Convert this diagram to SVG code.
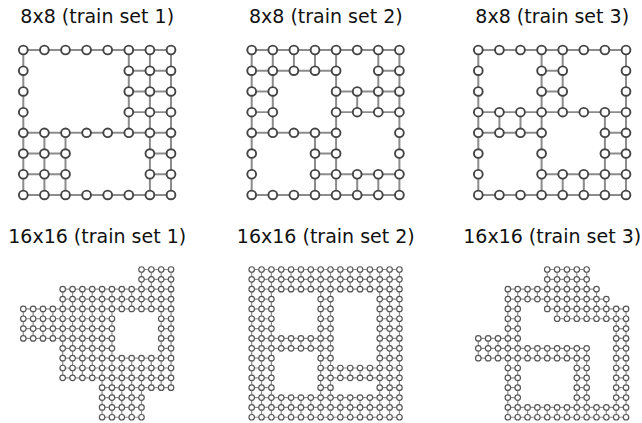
<svg xmlns="http://www.w3.org/2000/svg" xmlns:xlink="http://www.w3.org/1999/xlink" width="642" height="423" viewBox="0 0 642 423">
<style>
.t{font-family:"DejaVu Sans","Liberation Sans",sans-serif;font-size:19px;fill:#111;text-anchor:middle}
.e8{fill:none;stroke:#8c8c8c;stroke-width:.095;stroke-linecap:butt}
.e16{fill:none;stroke:#8c8c8c;stroke-width:.12}
.n8{fill:#fff;stroke:#444;stroke-width:.09}
.n16{fill:#fff;stroke:#555;stroke-width:.12}
</style>
<defs>
<circle id="n" class="n8" r="0.2085"/>
<circle id="m" class="n16" r="0.28"/>
</defs>
<rect width="642" height="423" fill="#fff"/>
<g id="titles">
<text class="t" x="97.2" y="23">8x8 (train set 1)</text>
<text class="t" x="325.8" y="23">8x8 (train set 2)</text>
<text class="t" x="552.2" y="23">8x8 (train set 3)</text>
<text class="t" x="97.2" y="243">16x16 (train set 1)</text>
<text class="t" x="325.8" y="243">16x16 (train set 2)</text>
<text class="t" x="552.2" y="243">16x16 (train set 3)</text>
</g>
<g id="connectors">
<path class="e8" transform="translate(23.3,50) scale(21.1,20.71)" d="M0 0H7M5 1H7M5 2H7M5 3H7M0 4H7M0 5H2M6 5H7M0 6H2M6 6H7M0 7H7M0 0V7M1 4V7M2 4V7M5 0V4M6 0V7M7 0V7"/>
<path class="e8" transform="translate(251.7,50) scale(21.1,20.71)" d="M0 0H7M0 1H4M6 1H7M0 2H1M4 2H7M0 3H1M4 3H7M0 4H4M3 5H4M3 6H7M0 7H7M0 0V7M1 0V4M2 0V1M3 0V1M3 4V7M4 0V7M5 2V3M5 6V7M6 0V3M6 6V7M7 0V7"/>
<path class="e8" transform="translate(478.3,50) scale(21.1,20.71)" d="M0 0H7M3 1H4M3 2H4M0 3H7M0 4H3M6 4H7M6 5H7M3 6H7M0 7H7M0 0V7M1 3V4M2 3V4M3 0V7M4 0V3M4 6V7M5 6V7M6 3V7M7 0V7"/>
<path class="e16" transform="translate(23.3,269.5) scale(9.85)" d="M12 0H15M12 1H15M4 2H15M4 3H15M0 4H15M0 5H9M14 5H15M0 6H9M14 6H15M0 7H9M14 7H15M4 8H9M14 8H15M4 9H15M4 10H15M4 11H15M8 12H15M8 13H12M8 14H12M8 15H12M0 4V7M1 4V7M2 4V7M3 4V7M4 2V11M5 2V11M6 2V11M7 2V11M8 2V15M9 2V15M10 2V4M10 9V15M11 2V4M11 9V15M12 0V4M12 9V15M13 0V4M13 9V12M14 0V12M15 0V12"/>
<path class="e16" transform="translate(251.7,269.5) scale(9.85)" d="M0 0H15M0 1H15M0 2H15M0 3H2M7 3H8M13 3H15M0 4H2M7 4H8M13 4H15M0 5H2M7 5H8M13 5H15M0 6H2M7 6H8M13 6H15M0 7H8M13 7H15M0 8H8M13 8H15M0 9H2M7 9H8M13 9H15M0 10H2M7 10H15M0 11H2M7 11H15M0 12H2M7 12H8M13 12H15M0 13H15M0 14H15M0 15H15M0 0V15M1 0V15M2 0V15M3 0V2M3 7V8M3 13V15M4 0V2M4 7V8M4 13V15M5 0V2M5 7V8M5 13V15M6 0V2M6 7V8M6 13V15M7 0V15M8 0V15M9 0V2M9 10V11M9 13V15M10 0V2M10 10V11M10 13V15M11 0V2M11 10V11M11 13V15M12 0V2M12 10V11M12 13V15M13 0V15M14 0V15M15 0V15"/>
<path class="e16" transform="translate(478.3,269.5) scale(9.85)" d="M7 0H11M7 1H11M3 2H12M3 3H13M3 4H4M7 4H15M3 5H4M8 5H15M3 6H4M14 6H15M0 7H4M14 7H15M0 8H11M14 8H15M0 9H11M14 9H15M3 10H4M10 10H11M14 10H15M3 11H4M10 11H11M14 11H15M3 12H4M10 12H11M14 12H15M3 13H4M10 13H11M14 13H15M3 14H15M3 15H15M0 7V9M1 7V9M2 7V9M3 2V15M4 2V15M5 2V3M5 8V9M5 14V15M6 2V3M6 8V9M6 14V15M7 0V4M7 8V9M7 14V15M8 0V5M8 8V9M8 14V15M9 0V5M9 8V9M9 14V15M10 0V5M10 8V15M11 0V5M11 8V15M12 2V5M12 14V15M13 3V5M13 14V15M14 4V15M15 4V15"/>
</g>
<g id="graph-8x8-set1" transform="translate(23.3,50) scale(21.1,20.71)">
<use id="a0-0" href="#n" x="0" y="0"/><use id="a0-1" href="#n" x="1" y="0"/><use id="a0-2" href="#n" x="2" y="0"/><use id="a0-3" href="#n" x="3" y="0"/><use id="a0-4" href="#n" x="4" y="0"/><use id="a0-5" href="#n" x="5" y="0"/><use id="a0-6" href="#n" x="6" y="0"/><use id="a0-7" href="#n" x="7" y="0"/>
<use id="a1-0" href="#n" x="0" y="1"/><use id="a1-5" href="#n" x="5" y="1"/><use id="a1-6" href="#n" x="6" y="1"/><use id="a1-7" href="#n" x="7" y="1"/>
<use id="a2-0" href="#n" x="0" y="2"/><use id="a2-5" href="#n" x="5" y="2"/><use id="a2-6" href="#n" x="6" y="2"/><use id="a2-7" href="#n" x="7" y="2"/>
<use id="a3-0" href="#n" x="0" y="3"/><use id="a3-5" href="#n" x="5" y="3"/><use id="a3-6" href="#n" x="6" y="3"/><use id="a3-7" href="#n" x="7" y="3"/>
<use id="a4-0" href="#n" x="0" y="4"/><use id="a4-1" href="#n" x="1" y="4"/><use id="a4-2" href="#n" x="2" y="4"/><use id="a4-3" href="#n" x="3" y="4"/><use id="a4-4" href="#n" x="4" y="4"/><use id="a4-5" href="#n" x="5" y="4"/><use id="a4-6" href="#n" x="6" y="4"/><use id="a4-7" href="#n" x="7" y="4"/>
<use id="a5-0" href="#n" x="0" y="5"/><use id="a5-1" href="#n" x="1" y="5"/><use id="a5-2" href="#n" x="2" y="5"/><use id="a5-6" href="#n" x="6" y="5"/><use id="a5-7" href="#n" x="7" y="5"/>
<use id="a6-0" href="#n" x="0" y="6"/><use id="a6-1" href="#n" x="1" y="6"/><use id="a6-2" href="#n" x="2" y="6"/><use id="a6-6" href="#n" x="6" y="6"/><use id="a6-7" href="#n" x="7" y="6"/>
<use id="a7-0" href="#n" x="0" y="7"/><use id="a7-1" href="#n" x="1" y="7"/><use id="a7-2" href="#n" x="2" y="7"/><use id="a7-3" href="#n" x="3" y="7"/><use id="a7-4" href="#n" x="4" y="7"/><use id="a7-5" href="#n" x="5" y="7"/><use id="a7-6" href="#n" x="6" y="7"/><use id="a7-7" href="#n" x="7" y="7"/>
</g>
<g id="graph-8x8-set2" transform="translate(251.7,50) scale(21.1,20.71)">
<use id="b0-0" href="#n" x="0" y="0"/><use id="b0-1" href="#n" x="1" y="0"/><use id="b0-2" href="#n" x="2" y="0"/><use id="b0-3" href="#n" x="3" y="0"/><use id="b0-4" href="#n" x="4" y="0"/><use id="b0-5" href="#n" x="5" y="0"/><use id="b0-6" href="#n" x="6" y="0"/><use id="b0-7" href="#n" x="7" y="0"/>
<use id="b1-0" href="#n" x="0" y="1"/><use id="b1-1" href="#n" x="1" y="1"/><use id="b1-2" href="#n" x="2" y="1"/><use id="b1-3" href="#n" x="3" y="1"/><use id="b1-4" href="#n" x="4" y="1"/><use id="b1-6" href="#n" x="6" y="1"/><use id="b1-7" href="#n" x="7" y="1"/>
<use id="b2-0" href="#n" x="0" y="2"/><use id="b2-1" href="#n" x="1" y="2"/><use id="b2-4" href="#n" x="4" y="2"/><use id="b2-5" href="#n" x="5" y="2"/><use id="b2-6" href="#n" x="6" y="2"/><use id="b2-7" href="#n" x="7" y="2"/>
<use id="b3-0" href="#n" x="0" y="3"/><use id="b3-1" href="#n" x="1" y="3"/><use id="b3-4" href="#n" x="4" y="3"/><use id="b3-5" href="#n" x="5" y="3"/><use id="b3-6" href="#n" x="6" y="3"/><use id="b3-7" href="#n" x="7" y="3"/>
<use id="b4-0" href="#n" x="0" y="4"/><use id="b4-1" href="#n" x="1" y="4"/><use id="b4-2" href="#n" x="2" y="4"/><use id="b4-3" href="#n" x="3" y="4"/><use id="b4-4" href="#n" x="4" y="4"/><use id="b4-7" href="#n" x="7" y="4"/>
<use id="b5-0" href="#n" x="0" y="5"/><use id="b5-3" href="#n" x="3" y="5"/><use id="b5-4" href="#n" x="4" y="5"/><use id="b5-7" href="#n" x="7" y="5"/>
<use id="b6-0" href="#n" x="0" y="6"/><use id="b6-3" href="#n" x="3" y="6"/><use id="b6-4" href="#n" x="4" y="6"/><use id="b6-5" href="#n" x="5" y="6"/><use id="b6-6" href="#n" x="6" y="6"/><use id="b6-7" href="#n" x="7" y="6"/>
<use id="b7-0" href="#n" x="0" y="7"/><use id="b7-1" href="#n" x="1" y="7"/><use id="b7-2" href="#n" x="2" y="7"/><use id="b7-3" href="#n" x="3" y="7"/><use id="b7-4" href="#n" x="4" y="7"/><use id="b7-5" href="#n" x="5" y="7"/><use id="b7-6" href="#n" x="6" y="7"/><use id="b7-7" href="#n" x="7" y="7"/>
</g>
<g id="graph-8x8-set3" transform="translate(478.3,50) scale(21.1,20.71)">
<use id="c0-0" href="#n" x="0" y="0"/><use id="c0-1" href="#n" x="1" y="0"/><use id="c0-2" href="#n" x="2" y="0"/><use id="c0-3" href="#n" x="3" y="0"/><use id="c0-4" href="#n" x="4" y="0"/><use id="c0-5" href="#n" x="5" y="0"/><use id="c0-6" href="#n" x="6" y="0"/><use id="c0-7" href="#n" x="7" y="0"/>
<use id="c1-0" href="#n" x="0" y="1"/><use id="c1-3" href="#n" x="3" y="1"/><use id="c1-4" href="#n" x="4" y="1"/><use id="c1-7" href="#n" x="7" y="1"/>
<use id="c2-0" href="#n" x="0" y="2"/><use id="c2-3" href="#n" x="3" y="2"/><use id="c2-4" href="#n" x="4" y="2"/><use id="c2-7" href="#n" x="7" y="2"/>
<use id="c3-0" href="#n" x="0" y="3"/><use id="c3-1" href="#n" x="1" y="3"/><use id="c3-2" href="#n" x="2" y="3"/><use id="c3-3" href="#n" x="3" y="3"/><use id="c3-4" href="#n" x="4" y="3"/><use id="c3-5" href="#n" x="5" y="3"/><use id="c3-6" href="#n" x="6" y="3"/><use id="c3-7" href="#n" x="7" y="3"/>
<use id="c4-0" href="#n" x="0" y="4"/><use id="c4-1" href="#n" x="1" y="4"/><use id="c4-2" href="#n" x="2" y="4"/><use id="c4-3" href="#n" x="3" y="4"/><use id="c4-6" href="#n" x="6" y="4"/><use id="c4-7" href="#n" x="7" y="4"/>
<use id="c5-0" href="#n" x="0" y="5"/><use id="c5-3" href="#n" x="3" y="5"/><use id="c5-6" href="#n" x="6" y="5"/><use id="c5-7" href="#n" x="7" y="5"/>
<use id="c6-0" href="#n" x="0" y="6"/><use id="c6-3" href="#n" x="3" y="6"/><use id="c6-4" href="#n" x="4" y="6"/><use id="c6-5" href="#n" x="5" y="6"/><use id="c6-6" href="#n" x="6" y="6"/><use id="c6-7" href="#n" x="7" y="6"/>
<use id="c7-0" href="#n" x="0" y="7"/><use id="c7-1" href="#n" x="1" y="7"/><use id="c7-2" href="#n" x="2" y="7"/><use id="c7-3" href="#n" x="3" y="7"/><use id="c7-4" href="#n" x="4" y="7"/><use id="c7-5" href="#n" x="5" y="7"/><use id="c7-6" href="#n" x="6" y="7"/><use id="c7-7" href="#n" x="7" y="7"/>
</g>
<g id="graph-16x16-set1" transform="translate(23.3,269.5) scale(9.85)">
<use id="d0-12" href="#m" x="12" y="0"/><use id="d0-13" href="#m" x="13" y="0"/><use id="d0-14" href="#m" x="14" y="0"/><use id="d0-15" href="#m" x="15" y="0"/>
<use id="d1-12" href="#m" x="12" y="1"/><use id="d1-13" href="#m" x="13" y="1"/><use id="d1-14" href="#m" x="14" y="1"/><use id="d1-15" href="#m" x="15" y="1"/>
<use id="d2-4" href="#m" x="4" y="2"/><use id="d2-5" href="#m" x="5" y="2"/><use id="d2-6" href="#m" x="6" y="2"/><use id="d2-7" href="#m" x="7" y="2"/><use id="d2-8" href="#m" x="8" y="2"/><use id="d2-9" href="#m" x="9" y="2"/><use id="d2-10" href="#m" x="10" y="2"/><use id="d2-11" href="#m" x="11" y="2"/><use id="d2-12" href="#m" x="12" y="2"/><use id="d2-13" href="#m" x="13" y="2"/><use id="d2-14" href="#m" x="14" y="2"/><use id="d2-15" href="#m" x="15" y="2"/>
<use id="d3-4" href="#m" x="4" y="3"/><use id="d3-5" href="#m" x="5" y="3"/><use id="d3-6" href="#m" x="6" y="3"/><use id="d3-7" href="#m" x="7" y="3"/><use id="d3-8" href="#m" x="8" y="3"/><use id="d3-9" href="#m" x="9" y="3"/><use id="d3-10" href="#m" x="10" y="3"/><use id="d3-11" href="#m" x="11" y="3"/><use id="d3-12" href="#m" x="12" y="3"/><use id="d3-13" href="#m" x="13" y="3"/><use id="d3-14" href="#m" x="14" y="3"/><use id="d3-15" href="#m" x="15" y="3"/>
<use id="d4-0" href="#m" x="0" y="4"/><use id="d4-1" href="#m" x="1" y="4"/><use id="d4-2" href="#m" x="2" y="4"/><use id="d4-3" href="#m" x="3" y="4"/><use id="d4-4" href="#m" x="4" y="4"/><use id="d4-5" href="#m" x="5" y="4"/><use id="d4-6" href="#m" x="6" y="4"/><use id="d4-7" href="#m" x="7" y="4"/><use id="d4-8" href="#m" x="8" y="4"/><use id="d4-9" href="#m" x="9" y="4"/><use id="d4-10" href="#m" x="10" y="4"/><use id="d4-11" href="#m" x="11" y="4"/><use id="d4-12" href="#m" x="12" y="4"/><use id="d4-13" href="#m" x="13" y="4"/><use id="d4-14" href="#m" x="14" y="4"/><use id="d4-15" href="#m" x="15" y="4"/>
<use id="d5-0" href="#m" x="0" y="5"/><use id="d5-1" href="#m" x="1" y="5"/><use id="d5-2" href="#m" x="2" y="5"/><use id="d5-3" href="#m" x="3" y="5"/><use id="d5-4" href="#m" x="4" y="5"/><use id="d5-5" href="#m" x="5" y="5"/><use id="d5-6" href="#m" x="6" y="5"/><use id="d5-7" href="#m" x="7" y="5"/><use id="d5-8" href="#m" x="8" y="5"/><use id="d5-9" href="#m" x="9" y="5"/><use id="d5-14" href="#m" x="14" y="5"/><use id="d5-15" href="#m" x="15" y="5"/>
<use id="d6-0" href="#m" x="0" y="6"/><use id="d6-1" href="#m" x="1" y="6"/><use id="d6-2" href="#m" x="2" y="6"/><use id="d6-3" href="#m" x="3" y="6"/><use id="d6-4" href="#m" x="4" y="6"/><use id="d6-5" href="#m" x="5" y="6"/><use id="d6-6" href="#m" x="6" y="6"/><use id="d6-7" href="#m" x="7" y="6"/><use id="d6-8" href="#m" x="8" y="6"/><use id="d6-9" href="#m" x="9" y="6"/><use id="d6-14" href="#m" x="14" y="6"/><use id="d6-15" href="#m" x="15" y="6"/>
<use id="d7-0" href="#m" x="0" y="7"/><use id="d7-1" href="#m" x="1" y="7"/><use id="d7-2" href="#m" x="2" y="7"/><use id="d7-3" href="#m" x="3" y="7"/><use id="d7-4" href="#m" x="4" y="7"/><use id="d7-5" href="#m" x="5" y="7"/><use id="d7-6" href="#m" x="6" y="7"/><use id="d7-7" href="#m" x="7" y="7"/><use id="d7-8" href="#m" x="8" y="7"/><use id="d7-9" href="#m" x="9" y="7"/><use id="d7-14" href="#m" x="14" y="7"/><use id="d7-15" href="#m" x="15" y="7"/>
<use id="d8-4" href="#m" x="4" y="8"/><use id="d8-5" href="#m" x="5" y="8"/><use id="d8-6" href="#m" x="6" y="8"/><use id="d8-7" href="#m" x="7" y="8"/><use id="d8-8" href="#m" x="8" y="8"/><use id="d8-9" href="#m" x="9" y="8"/><use id="d8-14" href="#m" x="14" y="8"/><use id="d8-15" href="#m" x="15" y="8"/>
<use id="d9-4" href="#m" x="4" y="9"/><use id="d9-5" href="#m" x="5" y="9"/><use id="d9-6" href="#m" x="6" y="9"/><use id="d9-7" href="#m" x="7" y="9"/><use id="d9-8" href="#m" x="8" y="9"/><use id="d9-9" href="#m" x="9" y="9"/><use id="d9-10" href="#m" x="10" y="9"/><use id="d9-11" href="#m" x="11" y="9"/><use id="d9-12" href="#m" x="12" y="9"/><use id="d9-13" href="#m" x="13" y="9"/><use id="d9-14" href="#m" x="14" y="9"/><use id="d9-15" href="#m" x="15" y="9"/>
<use id="d10-4" href="#m" x="4" y="10"/><use id="d10-5" href="#m" x="5" y="10"/><use id="d10-6" href="#m" x="6" y="10"/><use id="d10-7" href="#m" x="7" y="10"/><use id="d10-8" href="#m" x="8" y="10"/><use id="d10-9" href="#m" x="9" y="10"/><use id="d10-10" href="#m" x="10" y="10"/><use id="d10-11" href="#m" x="11" y="10"/><use id="d10-12" href="#m" x="12" y="10"/><use id="d10-13" href="#m" x="13" y="10"/><use id="d10-14" href="#m" x="14" y="10"/><use id="d10-15" href="#m" x="15" y="10"/>
<use id="d11-4" href="#m" x="4" y="11"/><use id="d11-5" href="#m" x="5" y="11"/><use id="d11-6" href="#m" x="6" y="11"/><use id="d11-7" href="#m" x="7" y="11"/><use id="d11-8" href="#m" x="8" y="11"/><use id="d11-9" href="#m" x="9" y="11"/><use id="d11-10" href="#m" x="10" y="11"/><use id="d11-11" href="#m" x="11" y="11"/><use id="d11-12" href="#m" x="12" y="11"/><use id="d11-13" href="#m" x="13" y="11"/><use id="d11-14" href="#m" x="14" y="11"/><use id="d11-15" href="#m" x="15" y="11"/>
<use id="d12-8" href="#m" x="8" y="12"/><use id="d12-9" href="#m" x="9" y="12"/><use id="d12-10" href="#m" x="10" y="12"/><use id="d12-11" href="#m" x="11" y="12"/><use id="d12-12" href="#m" x="12" y="12"/><use id="d12-13" href="#m" x="13" y="12"/><use id="d12-14" href="#m" x="14" y="12"/><use id="d12-15" href="#m" x="15" y="12"/>
<use id="d13-8" href="#m" x="8" y="13"/><use id="d13-9" href="#m" x="9" y="13"/><use id="d13-10" href="#m" x="10" y="13"/><use id="d13-11" href="#m" x="11" y="13"/><use id="d13-12" href="#m" x="12" y="13"/>
<use id="d14-8" href="#m" x="8" y="14"/><use id="d14-9" href="#m" x="9" y="14"/><use id="d14-10" href="#m" x="10" y="14"/><use id="d14-11" href="#m" x="11" y="14"/><use id="d14-12" href="#m" x="12" y="14"/>
<use id="d15-8" href="#m" x="8" y="15"/><use id="d15-9" href="#m" x="9" y="15"/><use id="d15-10" href="#m" x="10" y="15"/><use id="d15-11" href="#m" x="11" y="15"/><use id="d15-12" href="#m" x="12" y="15"/>
</g>
<g id="graph-16x16-set2" transform="translate(251.7,269.5) scale(9.85)">
<use id="e0-0" href="#m" x="0" y="0"/><use id="e0-1" href="#m" x="1" y="0"/><use id="e0-2" href="#m" x="2" y="0"/><use id="e0-3" href="#m" x="3" y="0"/><use id="e0-4" href="#m" x="4" y="0"/><use id="e0-5" href="#m" x="5" y="0"/><use id="e0-6" href="#m" x="6" y="0"/><use id="e0-7" href="#m" x="7" y="0"/><use id="e0-8" href="#m" x="8" y="0"/><use id="e0-9" href="#m" x="9" y="0"/><use id="e0-10" href="#m" x="10" y="0"/><use id="e0-11" href="#m" x="11" y="0"/><use id="e0-12" href="#m" x="12" y="0"/><use id="e0-13" href="#m" x="13" y="0"/><use id="e0-14" href="#m" x="14" y="0"/><use id="e0-15" href="#m" x="15" y="0"/>
<use id="e1-0" href="#m" x="0" y="1"/><use id="e1-1" href="#m" x="1" y="1"/><use id="e1-2" href="#m" x="2" y="1"/><use id="e1-3" href="#m" x="3" y="1"/><use id="e1-4" href="#m" x="4" y="1"/><use id="e1-5" href="#m" x="5" y="1"/><use id="e1-6" href="#m" x="6" y="1"/><use id="e1-7" href="#m" x="7" y="1"/><use id="e1-8" href="#m" x="8" y="1"/><use id="e1-9" href="#m" x="9" y="1"/><use id="e1-10" href="#m" x="10" y="1"/><use id="e1-11" href="#m" x="11" y="1"/><use id="e1-12" href="#m" x="12" y="1"/><use id="e1-13" href="#m" x="13" y="1"/><use id="e1-14" href="#m" x="14" y="1"/><use id="e1-15" href="#m" x="15" y="1"/>
<use id="e2-0" href="#m" x="0" y="2"/><use id="e2-1" href="#m" x="1" y="2"/><use id="e2-2" href="#m" x="2" y="2"/><use id="e2-3" href="#m" x="3" y="2"/><use id="e2-4" href="#m" x="4" y="2"/><use id="e2-5" href="#m" x="5" y="2"/><use id="e2-6" href="#m" x="6" y="2"/><use id="e2-7" href="#m" x="7" y="2"/><use id="e2-8" href="#m" x="8" y="2"/><use id="e2-9" href="#m" x="9" y="2"/><use id="e2-10" href="#m" x="10" y="2"/><use id="e2-11" href="#m" x="11" y="2"/><use id="e2-12" href="#m" x="12" y="2"/><use id="e2-13" href="#m" x="13" y="2"/><use id="e2-14" href="#m" x="14" y="2"/><use id="e2-15" href="#m" x="15" y="2"/>
<use id="e3-0" href="#m" x="0" y="3"/><use id="e3-1" href="#m" x="1" y="3"/><use id="e3-2" href="#m" x="2" y="3"/><use id="e3-7" href="#m" x="7" y="3"/><use id="e3-8" href="#m" x="8" y="3"/><use id="e3-13" href="#m" x="13" y="3"/><use id="e3-14" href="#m" x="14" y="3"/><use id="e3-15" href="#m" x="15" y="3"/>
<use id="e4-0" href="#m" x="0" y="4"/><use id="e4-1" href="#m" x="1" y="4"/><use id="e4-2" href="#m" x="2" y="4"/><use id="e4-7" href="#m" x="7" y="4"/><use id="e4-8" href="#m" x="8" y="4"/><use id="e4-13" href="#m" x="13" y="4"/><use id="e4-14" href="#m" x="14" y="4"/><use id="e4-15" href="#m" x="15" y="4"/>
<use id="e5-0" href="#m" x="0" y="5"/><use id="e5-1" href="#m" x="1" y="5"/><use id="e5-2" href="#m" x="2" y="5"/><use id="e5-7" href="#m" x="7" y="5"/><use id="e5-8" href="#m" x="8" y="5"/><use id="e5-13" href="#m" x="13" y="5"/><use id="e5-14" href="#m" x="14" y="5"/><use id="e5-15" href="#m" x="15" y="5"/>
<use id="e6-0" href="#m" x="0" y="6"/><use id="e6-1" href="#m" x="1" y="6"/><use id="e6-2" href="#m" x="2" y="6"/><use id="e6-7" href="#m" x="7" y="6"/><use id="e6-8" href="#m" x="8" y="6"/><use id="e6-13" href="#m" x="13" y="6"/><use id="e6-14" href="#m" x="14" y="6"/><use id="e6-15" href="#m" x="15" y="6"/>
<use id="e7-0" href="#m" x="0" y="7"/><use id="e7-1" href="#m" x="1" y="7"/><use id="e7-2" href="#m" x="2" y="7"/><use id="e7-3" href="#m" x="3" y="7"/><use id="e7-4" href="#m" x="4" y="7"/><use id="e7-5" href="#m" x="5" y="7"/><use id="e7-6" href="#m" x="6" y="7"/><use id="e7-7" href="#m" x="7" y="7"/><use id="e7-8" href="#m" x="8" y="7"/><use id="e7-13" href="#m" x="13" y="7"/><use id="e7-14" href="#m" x="14" y="7"/><use id="e7-15" href="#m" x="15" y="7"/>
<use id="e8-0" href="#m" x="0" y="8"/><use id="e8-1" href="#m" x="1" y="8"/><use id="e8-2" href="#m" x="2" y="8"/><use id="e8-3" href="#m" x="3" y="8"/><use id="e8-4" href="#m" x="4" y="8"/><use id="e8-5" href="#m" x="5" y="8"/><use id="e8-6" href="#m" x="6" y="8"/><use id="e8-7" href="#m" x="7" y="8"/><use id="e8-8" href="#m" x="8" y="8"/><use id="e8-13" href="#m" x="13" y="8"/><use id="e8-14" href="#m" x="14" y="8"/><use id="e8-15" href="#m" x="15" y="8"/>
<use id="e9-0" href="#m" x="0" y="9"/><use id="e9-1" href="#m" x="1" y="9"/><use id="e9-2" href="#m" x="2" y="9"/><use id="e9-7" href="#m" x="7" y="9"/><use id="e9-8" href="#m" x="8" y="9"/><use id="e9-13" href="#m" x="13" y="9"/><use id="e9-14" href="#m" x="14" y="9"/><use id="e9-15" href="#m" x="15" y="9"/>
<use id="e10-0" href="#m" x="0" y="10"/><use id="e10-1" href="#m" x="1" y="10"/><use id="e10-2" href="#m" x="2" y="10"/><use id="e10-7" href="#m" x="7" y="10"/><use id="e10-8" href="#m" x="8" y="10"/><use id="e10-9" href="#m" x="9" y="10"/><use id="e10-10" href="#m" x="10" y="10"/><use id="e10-11" href="#m" x="11" y="10"/><use id="e10-12" href="#m" x="12" y="10"/><use id="e10-13" href="#m" x="13" y="10"/><use id="e10-14" href="#m" x="14" y="10"/><use id="e10-15" href="#m" x="15" y="10"/>
<use id="e11-0" href="#m" x="0" y="11"/><use id="e11-1" href="#m" x="1" y="11"/><use id="e11-2" href="#m" x="2" y="11"/><use id="e11-7" href="#m" x="7" y="11"/><use id="e11-8" href="#m" x="8" y="11"/><use id="e11-9" href="#m" x="9" y="11"/><use id="e11-10" href="#m" x="10" y="11"/><use id="e11-11" href="#m" x="11" y="11"/><use id="e11-12" href="#m" x="12" y="11"/><use id="e11-13" href="#m" x="13" y="11"/><use id="e11-14" href="#m" x="14" y="11"/><use id="e11-15" href="#m" x="15" y="11"/>
<use id="e12-0" href="#m" x="0" y="12"/><use id="e12-1" href="#m" x="1" y="12"/><use id="e12-2" href="#m" x="2" y="12"/><use id="e12-7" href="#m" x="7" y="12"/><use id="e12-8" href="#m" x="8" y="12"/><use id="e12-13" href="#m" x="13" y="12"/><use id="e12-14" href="#m" x="14" y="12"/><use id="e12-15" href="#m" x="15" y="12"/>
<use id="e13-0" href="#m" x="0" y="13"/><use id="e13-1" href="#m" x="1" y="13"/><use id="e13-2" href="#m" x="2" y="13"/><use id="e13-3" href="#m" x="3" y="13"/><use id="e13-4" href="#m" x="4" y="13"/><use id="e13-5" href="#m" x="5" y="13"/><use id="e13-6" href="#m" x="6" y="13"/><use id="e13-7" href="#m" x="7" y="13"/><use id="e13-8" href="#m" x="8" y="13"/><use id="e13-9" href="#m" x="9" y="13"/><use id="e13-10" href="#m" x="10" y="13"/><use id="e13-11" href="#m" x="11" y="13"/><use id="e13-12" href="#m" x="12" y="13"/><use id="e13-13" href="#m" x="13" y="13"/><use id="e13-14" href="#m" x="14" y="13"/><use id="e13-15" href="#m" x="15" y="13"/>
<use id="e14-0" href="#m" x="0" y="14"/><use id="e14-1" href="#m" x="1" y="14"/><use id="e14-2" href="#m" x="2" y="14"/><use id="e14-3" href="#m" x="3" y="14"/><use id="e14-4" href="#m" x="4" y="14"/><use id="e14-5" href="#m" x="5" y="14"/><use id="e14-6" href="#m" x="6" y="14"/><use id="e14-7" href="#m" x="7" y="14"/><use id="e14-8" href="#m" x="8" y="14"/><use id="e14-9" href="#m" x="9" y="14"/><use id="e14-10" href="#m" x="10" y="14"/><use id="e14-11" href="#m" x="11" y="14"/><use id="e14-12" href="#m" x="12" y="14"/><use id="e14-13" href="#m" x="13" y="14"/><use id="e14-14" href="#m" x="14" y="14"/><use id="e14-15" href="#m" x="15" y="14"/>
<use id="e15-0" href="#m" x="0" y="15"/><use id="e15-1" href="#m" x="1" y="15"/><use id="e15-2" href="#m" x="2" y="15"/><use id="e15-3" href="#m" x="3" y="15"/><use id="e15-4" href="#m" x="4" y="15"/><use id="e15-5" href="#m" x="5" y="15"/><use id="e15-6" href="#m" x="6" y="15"/><use id="e15-7" href="#m" x="7" y="15"/><use id="e15-8" href="#m" x="8" y="15"/><use id="e15-9" href="#m" x="9" y="15"/><use id="e15-10" href="#m" x="10" y="15"/><use id="e15-11" href="#m" x="11" y="15"/><use id="e15-12" href="#m" x="12" y="15"/><use id="e15-13" href="#m" x="13" y="15"/><use id="e15-14" href="#m" x="14" y="15"/><use id="e15-15" href="#m" x="15" y="15"/>
</g>
<g id="graph-16x16-set3" transform="translate(478.3,269.5) scale(9.85)">
<use id="f0-7" href="#m" x="7" y="0"/><use id="f0-8" href="#m" x="8" y="0"/><use id="f0-9" href="#m" x="9" y="0"/><use id="f0-10" href="#m" x="10" y="0"/><use id="f0-11" href="#m" x="11" y="0"/>
<use id="f1-7" href="#m" x="7" y="1"/><use id="f1-8" href="#m" x="8" y="1"/><use id="f1-9" href="#m" x="9" y="1"/><use id="f1-10" href="#m" x="10" y="1"/><use id="f1-11" href="#m" x="11" y="1"/>
<use id="f2-3" href="#m" x="3" y="2"/><use id="f2-4" href="#m" x="4" y="2"/><use id="f2-5" href="#m" x="5" y="2"/><use id="f2-6" href="#m" x="6" y="2"/><use id="f2-7" href="#m" x="7" y="2"/><use id="f2-8" href="#m" x="8" y="2"/><use id="f2-9" href="#m" x="9" y="2"/><use id="f2-10" href="#m" x="10" y="2"/><use id="f2-11" href="#m" x="11" y="2"/><use id="f2-12" href="#m" x="12" y="2"/>
<use id="f3-3" href="#m" x="3" y="3"/><use id="f3-4" href="#m" x="4" y="3"/><use id="f3-5" href="#m" x="5" y="3"/><use id="f3-6" href="#m" x="6" y="3"/><use id="f3-7" href="#m" x="7" y="3"/><use id="f3-8" href="#m" x="8" y="3"/><use id="f3-9" href="#m" x="9" y="3"/><use id="f3-10" href="#m" x="10" y="3"/><use id="f3-11" href="#m" x="11" y="3"/><use id="f3-12" href="#m" x="12" y="3"/><use id="f3-13" href="#m" x="13" y="3"/>
<use id="f4-3" href="#m" x="3" y="4"/><use id="f4-4" href="#m" x="4" y="4"/><use id="f4-7" href="#m" x="7" y="4"/><use id="f4-8" href="#m" x="8" y="4"/><use id="f4-9" href="#m" x="9" y="4"/><use id="f4-10" href="#m" x="10" y="4"/><use id="f4-11" href="#m" x="11" y="4"/><use id="f4-12" href="#m" x="12" y="4"/><use id="f4-13" href="#m" x="13" y="4"/><use id="f4-14" href="#m" x="14" y="4"/><use id="f4-15" href="#m" x="15" y="4"/>
<use id="f5-3" href="#m" x="3" y="5"/><use id="f5-4" href="#m" x="4" y="5"/><use id="f5-8" href="#m" x="8" y="5"/><use id="f5-9" href="#m" x="9" y="5"/><use id="f5-10" href="#m" x="10" y="5"/><use id="f5-11" href="#m" x="11" y="5"/><use id="f5-12" href="#m" x="12" y="5"/><use id="f5-13" href="#m" x="13" y="5"/><use id="f5-14" href="#m" x="14" y="5"/><use id="f5-15" href="#m" x="15" y="5"/>
<use id="f6-3" href="#m" x="3" y="6"/><use id="f6-4" href="#m" x="4" y="6"/><use id="f6-14" href="#m" x="14" y="6"/><use id="f6-15" href="#m" x="15" y="6"/>
<use id="f7-0" href="#m" x="0" y="7"/><use id="f7-1" href="#m" x="1" y="7"/><use id="f7-2" href="#m" x="2" y="7"/><use id="f7-3" href="#m" x="3" y="7"/><use id="f7-4" href="#m" x="4" y="7"/><use id="f7-14" href="#m" x="14" y="7"/><use id="f7-15" href="#m" x="15" y="7"/>
<use id="f8-0" href="#m" x="0" y="8"/><use id="f8-1" href="#m" x="1" y="8"/><use id="f8-2" href="#m" x="2" y="8"/><use id="f8-3" href="#m" x="3" y="8"/><use id="f8-4" href="#m" x="4" y="8"/><use id="f8-5" href="#m" x="5" y="8"/><use id="f8-6" href="#m" x="6" y="8"/><use id="f8-7" href="#m" x="7" y="8"/><use id="f8-8" href="#m" x="8" y="8"/><use id="f8-9" href="#m" x="9" y="8"/><use id="f8-10" href="#m" x="10" y="8"/><use id="f8-11" href="#m" x="11" y="8"/><use id="f8-14" href="#m" x="14" y="8"/><use id="f8-15" href="#m" x="15" y="8"/>
<use id="f9-0" href="#m" x="0" y="9"/><use id="f9-1" href="#m" x="1" y="9"/><use id="f9-2" href="#m" x="2" y="9"/><use id="f9-3" href="#m" x="3" y="9"/><use id="f9-4" href="#m" x="4" y="9"/><use id="f9-5" href="#m" x="5" y="9"/><use id="f9-6" href="#m" x="6" y="9"/><use id="f9-7" href="#m" x="7" y="9"/><use id="f9-8" href="#m" x="8" y="9"/><use id="f9-9" href="#m" x="9" y="9"/><use id="f9-10" href="#m" x="10" y="9"/><use id="f9-11" href="#m" x="11" y="9"/><use id="f9-14" href="#m" x="14" y="9"/><use id="f9-15" href="#m" x="15" y="9"/>
<use id="f10-3" href="#m" x="3" y="10"/><use id="f10-4" href="#m" x="4" y="10"/><use id="f10-10" href="#m" x="10" y="10"/><use id="f10-11" href="#m" x="11" y="10"/><use id="f10-14" href="#m" x="14" y="10"/><use id="f10-15" href="#m" x="15" y="10"/>
<use id="f11-3" href="#m" x="3" y="11"/><use id="f11-4" href="#m" x="4" y="11"/><use id="f11-10" href="#m" x="10" y="11"/><use id="f11-11" href="#m" x="11" y="11"/><use id="f11-14" href="#m" x="14" y="11"/><use id="f11-15" href="#m" x="15" y="11"/>
<use id="f12-3" href="#m" x="3" y="12"/><use id="f12-4" href="#m" x="4" y="12"/><use id="f12-10" href="#m" x="10" y="12"/><use id="f12-11" href="#m" x="11" y="12"/><use id="f12-14" href="#m" x="14" y="12"/><use id="f12-15" href="#m" x="15" y="12"/>
<use id="f13-3" href="#m" x="3" y="13"/><use id="f13-4" href="#m" x="4" y="13"/><use id="f13-10" href="#m" x="10" y="13"/><use id="f13-11" href="#m" x="11" y="13"/><use id="f13-14" href="#m" x="14" y="13"/><use id="f13-15" href="#m" x="15" y="13"/>
<use id="f14-3" href="#m" x="3" y="14"/><use id="f14-4" href="#m" x="4" y="14"/><use id="f14-5" href="#m" x="5" y="14"/><use id="f14-6" href="#m" x="6" y="14"/><use id="f14-7" href="#m" x="7" y="14"/><use id="f14-8" href="#m" x="8" y="14"/><use id="f14-9" href="#m" x="9" y="14"/><use id="f14-10" href="#m" x="10" y="14"/><use id="f14-11" href="#m" x="11" y="14"/><use id="f14-12" href="#m" x="12" y="14"/><use id="f14-13" href="#m" x="13" y="14"/><use id="f14-14" href="#m" x="14" y="14"/><use id="f14-15" href="#m" x="15" y="14"/>
<use id="f15-3" href="#m" x="3" y="15"/><use id="f15-4" href="#m" x="4" y="15"/><use id="f15-5" href="#m" x="5" y="15"/><use id="f15-6" href="#m" x="6" y="15"/><use id="f15-7" href="#m" x="7" y="15"/><use id="f15-8" href="#m" x="8" y="15"/><use id="f15-9" href="#m" x="9" y="15"/><use id="f15-10" href="#m" x="10" y="15"/><use id="f15-11" href="#m" x="11" y="15"/><use id="f15-12" href="#m" x="12" y="15"/><use id="f15-13" href="#m" x="13" y="15"/><use id="f15-14" href="#m" x="14" y="15"/><use id="f15-15" href="#m" x="15" y="15"/>
</g>
</svg>
